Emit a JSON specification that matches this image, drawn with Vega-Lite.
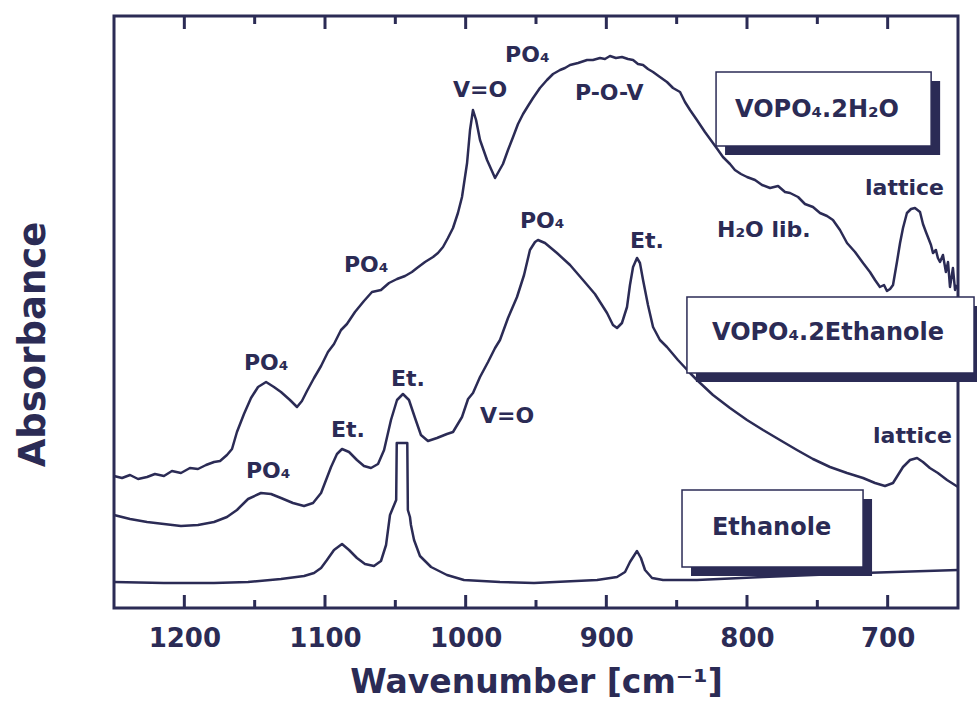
{
  "$schema": "https://vega.github.io/schema/vega-lite/v6.json",
  "width": 844,
  "height": 592,
  "autosize": {"type": "none"},
  "padding": {"left": 114, "top": 16, "right": 19, "bottom": 96},
  "background": "white",
  "config": {
    "view": {"stroke": "#2b2b55", "strokeWidth": 3},
    "font": "DejaVu Sans",
    "axis": {"grid": false, "domain": false},
    "axisY": {"labels": false, "ticks": false, "titleFont": "DejaVu Sans", "titleFontWeight": "bold", "titleFontSize": 37, "titleColor": "#2b2b55", "titlePadding": 62, "titleY": 328}
  },
  "datasets": {
    "spectra": [
      {"sample":"VOPO4.2H2O","wn":1250.0,"abs":132},{"sample":"VOPO4.2H2O","wn":1244.3,"abs":130},{"sample":"VOPO4.2H2O","wn":1238.6,"abs":133},{"sample":"VOPO4.2H2O","wn":1232.9,"abs":129},{"sample":"VOPO4.2H2O","wn":1226.5,"abs":131},{"sample":"VOPO4.2H2O","wn":1220.9,"abs":134},{"sample":"VOPO4.2H2O","wn":1214.5,"abs":132},{"sample":"VOPO4.2H2O","wn":1208.8,"abs":137},{"sample":"VOPO4.2H2O","wn":1202.4,"abs":135},{"sample":"VOPO4.2H2O","wn":1196.0,"abs":140},{"sample":"VOPO4.2H2O","wn":1190.3,"abs":139},{"sample":"VOPO4.2H2O","wn":1184.6,"abs":143},{"sample":"VOPO4.2H2O","wn":1178.9,"abs":146},{"sample":"VOPO4.2H2O","wn":1174.6,"abs":147},{"sample":"VOPO4.2H2O","wn":1169.7,"abs":153},{"sample":"VOPO4.2H2O","wn":1166.1,"abs":159},{"sample":"VOPO4.2H2O","wn":1162.6,"abs":176},{"sample":"VOPO4.2H2O","wn":1157.6,"abs":194},{"sample":"VOPO4.2H2O","wn":1152.6,"abs":210},{"sample":"VOPO4.2H2O","wn":1147.6,"abs":221},{"sample":"VOPO4.2H2O","wn":1141.9,"abs":226},{"sample":"VOPO4.2H2O","wn":1136.3,"abs":221},{"sample":"VOPO4.2H2O","wn":1131.3,"abs":216},{"sample":"VOPO4.2H2O","wn":1124.9,"abs":208},{"sample":"VOPO4.2H2O","wn":1119.9,"abs":201},{"sample":"VOPO4.2H2O","wn":1116.4,"abs":207},{"sample":"VOPO4.2H2O","wn":1112.8,"abs":217},{"sample":"VOPO4.2H2O","wn":1107.8,"abs":230},{"sample":"VOPO4.2H2O","wn":1102.8,"abs":242},{"sample":"VOPO4.2H2O","wn":1097.9,"abs":256},{"sample":"VOPO4.2H2O","wn":1093.6,"abs":264},{"sample":"VOPO4.2H2O","wn":1088.6,"abs":278},{"sample":"VOPO4.2H2O","wn":1084.4,"abs":284},{"sample":"VOPO4.2H2O","wn":1078.7,"abs":296},{"sample":"VOPO4.2H2O","wn":1072.3,"abs":307},{"sample":"VOPO4.2H2O","wn":1066.6,"abs":316},{"sample":"VOPO4.2H2O","wn":1060.2,"abs":318},{"sample":"VOPO4.2H2O","wn":1054.5,"abs":325},{"sample":"VOPO4.2H2O","wn":1048.8,"abs":329},{"sample":"VOPO4.2H2O","wn":1043.1,"abs":332},{"sample":"VOPO4.2H2O","wn":1038.2,"abs":336},{"sample":"VOPO4.2H2O","wn":1034.6,"abs":340},{"sample":"VOPO4.2H2O","wn":1028.9,"abs":346},{"sample":"VOPO4.2H2O","wn":1023.2,"abs":351},{"sample":"VOPO4.2H2O","wn":1019.7,"abs":355},{"sample":"VOPO4.2H2O","wn":1016.1,"abs":361},{"sample":"VOPO4.2H2O","wn":1012.6,"abs":370},{"sample":"VOPO4.2H2O","wn":1009.0,"abs":380},{"sample":"VOPO4.2H2O","wn":1005.5,"abs":395},{"sample":"VOPO4.2H2O","wn":1002.6,"abs":411},{"sample":"VOPO4.2H2O","wn":999.0,"abs":445},{"sample":"VOPO4.2H2O","wn":996.9,"abs":478},{"sample":"VOPO4.2H2O","wn":994.8,"abs":498},{"sample":"VOPO4.2H2O","wn":992.6,"abs":488},{"sample":"VOPO4.2H2O","wn":989.8,"abs":468},{"sample":"VOPO4.2H2O","wn":984.8,"abs":448},{"sample":"VOPO4.2H2O","wn":979.1,"abs":430},{"sample":"VOPO4.2H2O","wn":973.5,"abs":444},{"sample":"VOPO4.2H2O","wn":969.9,"abs":458},{"sample":"VOPO4.2H2O","wn":966.3,"abs":471},{"sample":"VOPO4.2H2O","wn":962.8,"abs":484},{"sample":"VOPO4.2H2O","wn":959.2,"abs":494},{"sample":"VOPO4.2H2O","wn":955.7,"abs":502},{"sample":"VOPO4.2H2O","wn":952.1,"abs":510},{"sample":"VOPO4.2H2O","wn":947.2,"abs":520},{"sample":"VOPO4.2H2O","wn":942.2,"abs":528},{"sample":"VOPO4.2H2O","wn":937.9,"abs":534},{"sample":"VOPO4.2H2O","wn":932.9,"abs":538},{"sample":"VOPO4.2H2O","wn":929.4,"abs":540},{"sample":"VOPO4.2H2O","wn":925.8,"abs":543},{"sample":"VOPO4.2H2O","wn":920.1,"abs":545},{"sample":"VOPO4.2H2O","wn":913.7,"abs":548},{"sample":"VOPO4.2H2O","wn":909.5,"abs":548},{"sample":"VOPO4.2H2O","wn":904.5,"abs":550},{"sample":"VOPO4.2H2O","wn":901.0,"abs":549},{"sample":"VOPO4.2H2O","wn":897.4,"abs":552},{"sample":"VOPO4.2H2O","wn":893.2,"abs":550},{"sample":"VOPO4.2H2O","wn":888.9,"abs":551},{"sample":"VOPO4.2H2O","wn":884.6,"abs":549},{"sample":"VOPO4.2H2O","wn":881.0,"abs":548},{"sample":"VOPO4.2H2O","wn":877.5,"abs":544},{"sample":"VOPO4.2H2O","wn":873.9,"abs":543},{"sample":"VOPO4.2H2O","wn":870.4,"abs":539},{"sample":"VOPO4.2H2O","wn":866.8,"abs":536},{"sample":"VOPO4.2H2O","wn":861.9,"abs":531},{"sample":"VOPO4.2H2O","wn":856.9,"abs":526},{"sample":"VOPO4.2H2O","wn":852.6,"abs":520},{"sample":"VOPO4.2H2O","wn":847.6,"abs":516},{"sample":"VOPO4.2H2O","wn":844.1,"abs":506},{"sample":"VOPO4.2H2O","wn":840.5,"abs":498},{"sample":"VOPO4.2H2O","wn":835.6,"abs":488},{"sample":"VOPO4.2H2O","wn":829.9,"abs":476},{"sample":"VOPO4.2H2O","wn":824.2,"abs":465},{"sample":"VOPO4.2H2O","wn":820.6,"abs":458},{"sample":"VOPO4.2H2O","wn":817.1,"abs":451},{"sample":"VOPO4.2H2O","wn":812.1,"abs":444},{"sample":"VOPO4.2H2O","wn":808.6,"abs":438},{"sample":"VOPO4.2H2O","wn":804.3,"abs":434},{"sample":"VOPO4.2H2O","wn":800.0,"abs":431},{"sample":"VOPO4.2H2O","wn":794.3,"abs":428},{"sample":"VOPO4.2H2O","wn":789.3,"abs":423},{"sample":"VOPO4.2H2O","wn":783.6,"abs":420},{"sample":"VOPO4.2H2O","wn":777.9,"abs":422},{"sample":"VOPO4.2H2O","wn":773.0,"abs":416},{"sample":"VOPO4.2H2O","wn":769.4,"abs":415},{"sample":"VOPO4.2H2O","wn":763.7,"abs":411},{"sample":"VOPO4.2H2O","wn":758.8,"abs":404},{"sample":"VOPO4.2H2O","wn":753.1,"abs":401},{"sample":"VOPO4.2H2O","wn":748.1,"abs":395},{"sample":"VOPO4.2H2O","wn":743.1,"abs":392},{"sample":"VOPO4.2H2O","wn":738.9,"abs":388},{"sample":"VOPO4.2H2O","wn":733.9,"abs":378},{"sample":"VOPO4.2H2O","wn":728.9,"abs":365},{"sample":"VOPO4.2H2O","wn":723.2,"abs":356},{"sample":"VOPO4.2H2O","wn":717.5,"abs":345},{"sample":"VOPO4.2H2O","wn":712.6,"abs":336},{"sample":"VOPO4.2H2O","wn":709.0,"abs":328},{"sample":"VOPO4.2H2O","wn":705.5,"abs":321},{"sample":"VOPO4.2H2O","wn":702.6,"abs":323},{"sample":"VOPO4.2H2O","wn":700.5,"abs":317},{"sample":"VOPO4.2H2O","wn":698.3,"abs":319},{"sample":"VOPO4.2H2O","wn":696.2,"abs":323},{"sample":"VOPO4.2H2O","wn":693.4,"abs":346},{"sample":"VOPO4.2H2O","wn":691.2,"abs":365},{"sample":"VOPO4.2H2O","wn":689.1,"abs":380},{"sample":"VOPO4.2H2O","wn":686.3,"abs":395},{"sample":"VOPO4.2H2O","wn":683.4,"abs":399},{"sample":"VOPO4.2H2O","wn":680.6,"abs":400},{"sample":"VOPO4.2H2O","wn":677.0,"abs":396},{"sample":"VOPO4.2H2O","wn":674.9,"abs":384},{"sample":"VOPO4.2H2O","wn":672.8,"abs":376},{"sample":"VOPO4.2H2O","wn":671.4,"abs":371},{"sample":"VOPO4.2H2O","wn":669.2,"abs":363},{"sample":"VOPO4.2H2O","wn":667.8,"abs":355},{"sample":"VOPO4.2H2O","wn":665.7,"abs":358},{"sample":"VOPO4.2H2O","wn":664.3,"abs":350},{"sample":"VOPO4.2H2O","wn":662.8,"abs":346},{"sample":"VOPO4.2H2O","wn":660.7,"abs":353},{"sample":"VOPO4.2H2O","wn":658.6,"abs":336},{"sample":"VOPO4.2H2O","wn":657.1,"abs":346},{"sample":"VOPO4.2H2O","wn":655.7,"abs":321},{"sample":"VOPO4.2H2O","wn":653.6,"abs":340},{"sample":"VOPO4.2H2O","wn":652.1,"abs":318},{"sample":"VOPO4.2H2O","wn":650.7,"abs":323},
      {"sample":"VOPO4.2Ethanole","wn":1250.0,"abs":93},{"sample":"VOPO4.2Ethanole","wn":1238.6,"abs":89},{"sample":"VOPO4.2Ethanole","wn":1226.5,"abs":86},{"sample":"VOPO4.2Ethanole","wn":1214.5,"abs":84},{"sample":"VOPO4.2Ethanole","wn":1202.4,"abs":82},{"sample":"VOPO4.2Ethanole","wn":1190.3,"abs":83},{"sample":"VOPO4.2Ethanole","wn":1178.9,"abs":86},{"sample":"VOPO4.2Ethanole","wn":1169.7,"abs":91},{"sample":"VOPO4.2Ethanole","wn":1162.6,"abs":98},{"sample":"VOPO4.2Ethanole","wn":1154.7,"abs":109},{"sample":"VOPO4.2Ethanole","wn":1145.5,"abs":115},{"sample":"VOPO4.2Ethanole","wn":1138.4,"abs":114},{"sample":"VOPO4.2Ethanole","wn":1131.3,"abs":110},{"sample":"VOPO4.2Ethanole","wn":1122.8,"abs":105},{"sample":"VOPO4.2Ethanole","wn":1114.9,"abs":102},{"sample":"VOPO4.2Ethanole","wn":1108.5,"abs":105},{"sample":"VOPO4.2Ethanole","wn":1102.8,"abs":115},{"sample":"VOPO4.2Ethanole","wn":1095.7,"abs":141},{"sample":"VOPO4.2Ethanole","wn":1091.5,"abs":154},{"sample":"VOPO4.2Ethanole","wn":1087.9,"abs":159},{"sample":"VOPO4.2Ethanole","wn":1082.9,"abs":156},{"sample":"VOPO4.2Ethanole","wn":1077.3,"abs":148},{"sample":"VOPO4.2Ethanole","wn":1072.3,"abs":142},{"sample":"VOPO4.2Ethanole","wn":1067.3,"abs":140},{"sample":"VOPO4.2Ethanole","wn":1062.3,"abs":144},{"sample":"VOPO4.2Ethanole","wn":1058.0,"abs":158},{"sample":"VOPO4.2Ethanole","wn":1053.1,"abs":188},{"sample":"VOPO4.2Ethanole","wn":1048.8,"abs":208},{"sample":"VOPO4.2Ethanole","wn":1044.6,"abs":214},{"sample":"VOPO4.2Ethanole","wn":1040.3,"abs":208},{"sample":"VOPO4.2Ethanole","wn":1036.0,"abs":190},{"sample":"VOPO4.2Ethanole","wn":1031.8,"abs":173},{"sample":"VOPO4.2Ethanole","wn":1026.8,"abs":167},{"sample":"VOPO4.2Ethanole","wn":1020.4,"abs":170},{"sample":"VOPO4.2Ethanole","wn":1013.3,"abs":174},{"sample":"VOPO4.2Ethanole","wn":1009.0,"abs":176},{"sample":"VOPO4.2Ethanole","wn":1002.6,"abs":191},{"sample":"VOPO4.2Ethanole","wn":998.3,"abs":209},{"sample":"VOPO4.2Ethanole","wn":994.8,"abs":215},{"sample":"VOPO4.2Ethanole","wn":989.8,"abs":231},{"sample":"VOPO4.2Ethanole","wn":984.1,"abs":246},{"sample":"VOPO4.2Ethanole","wn":979.1,"abs":260},{"sample":"VOPO4.2Ethanole","wn":975.6,"abs":268},{"sample":"VOPO4.2Ethanole","wn":969.9,"abs":290},{"sample":"VOPO4.2Ethanole","wn":963.5,"abs":311},{"sample":"VOPO4.2Ethanole","wn":958.5,"abs":333},{"sample":"VOPO4.2Ethanole","wn":954.3,"abs":358},{"sample":"VOPO4.2Ethanole","wn":950.7,"abs":366},{"sample":"VOPO4.2Ethanole","wn":948.6,"abs":368},{"sample":"VOPO4.2Ethanole","wn":943.6,"abs":365},{"sample":"VOPO4.2Ethanole","wn":935.1,"abs":355},{"sample":"VOPO4.2Ethanole","wn":925.8,"abs":343},{"sample":"VOPO4.2Ethanole","wn":916.6,"abs":328},{"sample":"VOPO4.2Ethanole","wn":908.1,"abs":314},{"sample":"VOPO4.2Ethanole","wn":899.5,"abs":295},{"sample":"VOPO4.2Ethanole","wn":895.3,"abs":283},{"sample":"VOPO4.2Ethanole","wn":892.4,"abs":280},{"sample":"VOPO4.2Ethanole","wn":888.9,"abs":285},{"sample":"VOPO4.2Ethanole","wn":885.3,"abs":301},{"sample":"VOPO4.2Ethanole","wn":883.2,"abs":323},{"sample":"VOPO4.2Ethanole","wn":881.0,"abs":341},{"sample":"VOPO4.2Ethanole","wn":878.2,"abs":350},{"sample":"VOPO4.2Ethanole","wn":876.1,"abs":345},{"sample":"VOPO4.2Ethanole","wn":873.9,"abs":328},{"sample":"VOPO4.2Ethanole","wn":870.4,"abs":303},{"sample":"VOPO4.2Ethanole","wn":866.8,"abs":281},{"sample":"VOPO4.2Ethanole","wn":861.9,"abs":268},{"sample":"VOPO4.2Ethanole","wn":856.9,"abs":261},{"sample":"VOPO4.2Ethanole","wn":849.1,"abs":248},{"sample":"VOPO4.2Ethanole","wn":840.5,"abs":235},{"sample":"VOPO4.2Ethanole","wn":835.6,"abs":228},{"sample":"VOPO4.2Ethanole","wn":824.2,"abs":213},{"sample":"VOPO4.2Ethanole","wn":812.1,"abs":200},{"sample":"VOPO4.2Ethanole","wn":800.0,"abs":188},{"sample":"VOPO4.2Ethanole","wn":788.6,"abs":178},{"sample":"VOPO4.2Ethanole","wn":776.6,"abs":168},{"sample":"VOPO4.2Ethanole","wn":764.5,"abs":158},{"sample":"VOPO4.2Ethanole","wn":753.1,"abs":149},{"sample":"VOPO4.2Ethanole","wn":741.0,"abs":141},{"sample":"VOPO4.2Ethanole","wn":728.9,"abs":135},{"sample":"VOPO4.2Ethanole","wn":717.5,"abs":130},{"sample":"VOPO4.2Ethanole","wn":709.0,"abs":125},{"sample":"VOPO4.2Ethanole","wn":701.9,"abs":122},{"sample":"VOPO4.2Ethanole","wn":696.2,"abs":125},{"sample":"VOPO4.2Ethanole","wn":689.1,"abs":141},{"sample":"VOPO4.2Ethanole","wn":684.1,"abs":148},{"sample":"VOPO4.2Ethanole","wn":679.1,"abs":150},{"sample":"VOPO4.2Ethanole","wn":674.9,"abs":146},{"sample":"VOPO4.2Ethanole","wn":670.0,"abs":140},{"sample":"VOPO4.2Ethanole","wn":664.3,"abs":135},{"sample":"VOPO4.2Ethanole","wn":657.8,"abs":128},{"sample":"VOPO4.2Ethanole","wn":650.0,"abs":121},
      {"sample":"Ethanole","wn":1250.0,"abs":26},{"sample":"Ethanole","wn":1214.5,"abs":25},{"sample":"Ethanole","wn":1178.9,"abs":25},{"sample":"Ethanole","wn":1154.7,"abs":26},{"sample":"Ethanole","wn":1131.3,"abs":29},{"sample":"Ethanole","wn":1114.9,"abs":32},{"sample":"Ethanole","wn":1107.8,"abs":35},{"sample":"Ethanole","wn":1102.8,"abs":40},{"sample":"Ethanole","wn":1098.6,"abs":48},{"sample":"Ethanole","wn":1093.6,"abs":58},{"sample":"Ethanole","wn":1087.9,"abs":64},{"sample":"Ethanole","wn":1082.9,"abs":58},{"sample":"Ethanole","wn":1077.3,"abs":50},{"sample":"Ethanole","wn":1071.6,"abs":44},{"sample":"Ethanole","wn":1065.2,"abs":42},{"sample":"Ethanole","wn":1060.2,"abs":47},{"sample":"Ethanole","wn":1056.6,"abs":63},{"sample":"Ethanole","wn":1053.8,"abs":93},{"sample":"Ethanole","wn":1049.4,"abs":108},{"sample":"Ethanole","wn":1049.0,"abs":165},{"sample":"Ethanole","wn":1041.5,"abs":165},{"sample":"Ethanole","wn":1041.1,"abs":98},{"sample":"Ethanole","wn":1039.6,"abs":91},{"sample":"Ethanole","wn":1038.9,"abs":83},{"sample":"Ethanole","wn":1036.7,"abs":68},{"sample":"Ethanole","wn":1032.5,"abs":52},{"sample":"Ethanole","wn":1024.6,"abs":41},{"sample":"Ethanole","wn":1013.3,"abs":33},{"sample":"Ethanole","wn":1001.2,"abs":28},{"sample":"Ethanole","wn":975.6,"abs":26},{"sample":"Ethanole","wn":951.4,"abs":25},{"sample":"Ethanole","wn":906.6,"abs":28},{"sample":"Ethanole","wn":892.4,"abs":31},{"sample":"Ethanole","wn":886.7,"abs":36},{"sample":"Ethanole","wn":883.2,"abs":46},{"sample":"Ethanole","wn":878.2,"abs":57},{"sample":"Ethanole","wn":875.4,"abs":50},{"sample":"Ethanole","wn":872.5,"abs":38},{"sample":"Ethanole","wn":867.5,"abs":30},{"sample":"Ethanole","wn":859.7,"abs":28},{"sample":"Ethanole","wn":835.6,"abs":28},{"sample":"Ethanole","wn":788.6,"abs":31},{"sample":"Ethanole","wn":717.5,"abs":35},{"sample":"Ethanole","wn":650.0,"abs":38}
    ],
    "boxes": [
      {"name": "VOPO₄.2H₂O", "w1": 822.0, "w2": 669.1, "a1": 536, "a2": 462, "tw": 808.5, "ta": 491},
      {"name": "VOPO₄.2Ethanole", "w1": 842.7, "w2": 638.6, "a1": 311, "a2": 235, "tw": 824.9, "ta": 268},
      {"name": "Ethanole", "w1": 846.2, "w2": 717.5, "a1": 118, "a2": 41, "tw": 824.9, "ta": 73}
    ],
    "peaks": [
      {"label": "PO₄", "wn": 1157.6, "abs": 238},
      {"label": "PO₄", "wn": 1086.5, "abs": 336},
      {"label": "V=O", "wn": 1009.0, "abs": 511},
      {"label": "PO₄", "wn": 972.0, "abs": 546},
      {"label": "P-O-V", "wn": 922.3, "abs": 508},
      {"label": "H₂O lib.", "wn": 821.3, "abs": 371},
      {"label": "lattice", "wn": 716.1, "abs": 413},
      {"label": "PO₄", "wn": 961.4, "abs": 380},
      {"label": "Et.", "wn": 883.2, "abs": 360},
      {"label": "V=O", "wn": 989.8, "abs": 185},
      {"label": "Et.", "wn": 1053.1, "abs": 222},
      {"label": "Et.", "wn": 1095.7, "abs": 171},
      {"label": "PO₄", "wn": 1156.2, "abs": 130},
      {"label": "lattice", "wn": 710.4, "abs": 165}
    ],
    "tickmarks": [
      {"tick":"b700","wn":700,"abs":0},{"tick":"b700","wn":700,"abs":13},
      {"tick":"b800","wn":800,"abs":0},{"tick":"b800","wn":800,"abs":13},
      {"tick":"b900","wn":900,"abs":0},{"tick":"b900","wn":900,"abs":13},
      {"tick":"b1000","wn":1000,"abs":0},{"tick":"b1000","wn":1000,"abs":13},
      {"tick":"b1100","wn":1100,"abs":0},{"tick":"b1100","wn":1100,"abs":13},
      {"tick":"b1200","wn":1200,"abs":0},{"tick":"b1200","wn":1200,"abs":13},
      {"tick":"t700","wn":700,"abs":579},{"tick":"t700","wn":700,"abs":592},
      {"tick":"t800","wn":800,"abs":579},{"tick":"t800","wn":800,"abs":592},
      {"tick":"t900","wn":900,"abs":579},{"tick":"t900","wn":900,"abs":592},
      {"tick":"t1000","wn":1000,"abs":579},{"tick":"t1000","wn":1000,"abs":592},
      {"tick":"t1100","wn":1100,"abs":579},{"tick":"t1100","wn":1100,"abs":592},
      {"tick":"t1200","wn":1200,"abs":579},{"tick":"t1200","wn":1200,"abs":592},
      {"tick":"b750","wn":750,"abs":0},{"tick":"b750","wn":750,"abs":8},
      {"tick":"b850","wn":850,"abs":0},{"tick":"b850","wn":850,"abs":8},
      {"tick":"b950","wn":950,"abs":0},{"tick":"b950","wn":950,"abs":8},
      {"tick":"b1050","wn":1050,"abs":0},{"tick":"b1050","wn":1050,"abs":8},
      {"tick":"b1150","wn":1150,"abs":0},{"tick":"b1150","wn":1150,"abs":8},
      {"tick":"t750","wn":750,"abs":584},{"tick":"t750","wn":750,"abs":592},
      {"tick":"t850","wn":850,"abs":584},{"tick":"t850","wn":850,"abs":592},
      {"tick":"t950","wn":950,"abs":584},{"tick":"t950","wn":950,"abs":592},
      {"tick":"t1050","wn":1050,"abs":584},{"tick":"t1050","wn":1050,"abs":592},
      {"tick":"t1150","wn":1150,"abs":584},{"tick":"t1150","wn":1150,"abs":592}
    ]
  },
  "layer": [
    {
      "data": {"name": "spectra"},
      "mark": {"type": "line", "strokeWidth": 2.5, "color": "#2b2b55", "strokeJoin": "round"},
      "encoding": {
        "x": {
          "field": "wn", "type": "quantitative",
          "scale": {"domain": [650, 1250], "reverse": true, "nice": false},
          "title": "Wavenumber [cm⁻¹]",
          "axis": {
            "orient": "bottom",
            "values": [700, 800, 900, 1000, 1100, 1200],
            "format": "d",
            "ticks": false,
            "labelFont": "DejaVu Sans", "labelFontWeight": "bold", "labelFontSize": 26, "labelColor": "#2b2b55",
            "labelPadding": 17, "labelOverlap": false, "labelFlush": false,
            "titleFont": "DejaVu Sans", "titleFontWeight": "bold", "titleFontSize": 33, "titleColor": "#2b2b55", "titlePadding": 15
          }
        },
        "y": {"field": "abs", "type": "quantitative", "scale": {"domain": [0, 592], "nice": false, "zero": false}, "title": "Absorbance"},
        "detail": {"field": "sample"}
      }
    },
    {
      "data": {"name": "tickmarks"},
      "mark": {"type": "line", "strokeWidth": 3, "color": "#2b2b55", "strokeCap": "butt"},
      "encoding": {
        "x": {"field": "wn", "type": "quantitative", "axis": null},
        "y": {"field": "abs", "type": "quantitative", "title": "Absorbance"},
        "detail": {"field": "tick"}
      }
    },
    {
      "data": {"name": "boxes"},
      "mark": {"type": "rect", "color": "#2b2b55", "xOffset": 9, "x2Offset": 9, "yOffset": 9, "y2Offset": 9},
      "encoding": {
        "x": {"field": "w1", "type": "quantitative", "axis": null},
        "x2": {"field": "w2"},
        "y": {"field": "a1", "type": "quantitative", "title": "Absorbance"},
        "y2": {"field": "a2"}
      }
    },
    {
      "data": {"name": "boxes"},
      "mark": {"type": "rect", "fill": "white", "stroke": "#2b2b55", "strokeWidth": 1.5},
      "encoding": {
        "x": {"field": "w1", "type": "quantitative", "axis": null},
        "x2": {"field": "w2"},
        "y": {"field": "a1", "type": "quantitative", "title": "Absorbance"},
        "y2": {"field": "a2"}
      }
    },
    {
      "data": {"name": "boxes"},
      "mark": {"type": "text", "align": "left", "baseline": "alphabetic", "font": "DejaVu Sans", "fontWeight": "bold", "fontSize": 24, "color": "#2b2b55"},
      "encoding": {
        "x": {"field": "tw", "type": "quantitative", "axis": null},
        "y": {"field": "ta", "type": "quantitative", "title": "Absorbance"},
        "text": {"field": "name"}
      }
    },
    {
      "data": {"name": "peaks"},
      "mark": {"type": "text", "align": "left", "baseline": "alphabetic", "font": "DejaVu Sans", "fontWeight": "bold", "fontSize": 22, "color": "#2b2b55"},
      "encoding": {
        "x": {"field": "wn", "type": "quantitative", "axis": null},
        "y": {"field": "abs", "type": "quantitative", "title": "Absorbance"},
        "text": {"field": "label"}
      }
    }
  ],
  "resolve": {"axis": {"x": "independent"}}
}
